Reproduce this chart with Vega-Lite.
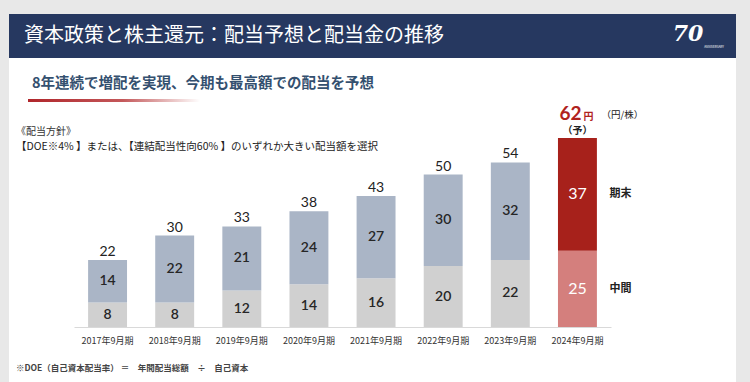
{
  "$schema": "https://vega.github.io/schema/vega-lite/v6.json",
  "width": 750,
  "height": 327,
  "autosize": {"type": "none"},
  "padding": {"left": 0, "top": 0, "right": 0, "bottom": 55},
  "background": "#e8e8e8",
  "config": {"view": {"stroke": null}, "font": "Noto Sans CJK JP"},
  "datasets": {
    "segments": [
      {"year": "2017年9月期", "part": "中間", "value": 8, "series": "中間", "ord": 1, "forecast": false},
      {"year": "2017年9月期", "part": "期末", "value": 14, "series": "期末", "ord": 2, "forecast": false},
      {"year": "2018年9月期", "part": "中間", "value": 8, "series": "中間", "ord": 1, "forecast": false},
      {"year": "2018年9月期", "part": "期末", "value": 22, "series": "期末", "ord": 2, "forecast": false},
      {"year": "2019年9月期", "part": "中間", "value": 12, "series": "中間", "ord": 1, "forecast": false},
      {"year": "2019年9月期", "part": "期末", "value": 21, "series": "期末", "ord": 2, "forecast": false},
      {"year": "2020年9月期", "part": "中間", "value": 14, "series": "中間", "ord": 1, "forecast": false},
      {"year": "2020年9月期", "part": "期末", "value": 24, "series": "期末", "ord": 2, "forecast": false},
      {"year": "2021年9月期", "part": "中間", "value": 16, "series": "中間", "ord": 1, "forecast": false},
      {"year": "2021年9月期", "part": "期末", "value": 27, "series": "期末", "ord": 2, "forecast": false},
      {"year": "2022年9月期", "part": "中間", "value": 20, "series": "中間", "ord": 1, "forecast": false},
      {"year": "2022年9月期", "part": "期末", "value": 30, "series": "期末", "ord": 2, "forecast": false},
      {"year": "2023年9月期", "part": "中間", "value": 22, "series": "中間", "ord": 1, "forecast": false},
      {"year": "2023年9月期", "part": "期末", "value": 32, "series": "期末", "ord": 2, "forecast": false},
      {"year": "2024年9月期", "part": "中間", "value": 25, "series": "中間予", "ord": 1, "forecast": true},
      {"year": "2024年9月期", "part": "期末", "value": 37, "series": "期末予", "ord": 2, "forecast": true}
    ],
    "totals": [
      {"year": "2017年9月期", "total": 22},
      {"year": "2018年9月期", "total": 30},
      {"year": "2019年9月期", "total": 33},
      {"year": "2020年9月期", "total": 38},
      {"year": "2021年9月期", "total": 43},
      {"year": "2022年9月期", "total": 50},
      {"year": "2023年9月期", "total": 54}
    ],
    "forecastTotal": [
      {"year": "2024年9月期", "total": 62}
    ]
  },
  "layer": [
    {
      "data": {"values": [{}]},
      "mark": {"type": "rect", "color": "white"},
      "encoding": {"x": {"value": 9}, "x2": {"value": 736}, "y": {"value": 14}, "y2": {"value": 382}}
    },
    {
      "data": {"values": [{}]},
      "mark": {"type": "rect", "color": "#263860"},
      "encoding": {"x": {"value": 9}, "x2": {"value": 736}, "y": {"value": 14}, "y2": {"value": 58}}
    },
    {
      "data": {"values": [{}]},
      "mark": {"type": "text", "text": "資本政策と株主還元：配当予想と配当金の推移", "align": "left", "baseline": "middle", "fontSize": 20, "color": "white"},
      "encoding": {"x": {"value": 24}, "y": {"value": 36}}
    },
    {
      "data": {"values": [{}]},
      "mark": {"type": "text", "text": "70", "align": "center", "baseline": "middle", "fontSize": 22, "fontStyle": "italic", "fontWeight": "bold", "font": "DejaVu Serif", "color": "white"},
      "encoding": {"x": {"value": 688}, "y": {"value": 34}}
    },
    {
      "data": {"values": [{}]},
      "mark": {"type": "text", "text": "ANNIVERSARY", "align": "center", "baseline": "middle", "fontSize": 3, "color": "white"},
      "encoding": {"x": {"value": 714}, "y": {"value": 47}}
    },
    {
      "data": {"values": [{}]},
      "mark": {"type": "text", "text": "8年連続で増配を実現、今期も最高額での配当を予想", "align": "left", "baseline": "middle", "fontSize": 14.5, "fontWeight": "bold", "color": "#34506f"},
      "encoding": {"x": {"value": 32}, "y": {"value": 84}}
    },
    {
      "data": {"values": [{}]},
      "mark": {"type": "rect", "color": {"gradient": "linear", "x1": 0, "x2": 1, "y1": 0, "y2": 0, "stops": [{"offset": 0, "color": "#b0262b"}, {"offset": 0.55, "color": "#c4585a"}, {"offset": 1, "color": "#ffffff"}]}},
      "encoding": {"x": {"value": 28}, "x2": {"value": 200}, "y": {"value": 99}, "y2": {"value": 102}}
    },
    {
      "data": {"values": [{}]},
      "mark": {"type": "text", "text": "《配当方針》", "align": "left", "baseline": "middle", "fontSize": 10, "color": "#333333"},
      "encoding": {"x": {"value": 16}, "y": {"value": 132}}
    },
    {
      "data": {"values": [{}]},
      "mark": {"type": "text", "text": "【DOE※4% 】または、【連結配当性向60% 】のいずれか大きい配当額を選択", "align": "left", "baseline": "middle", "fontSize": 10.5, "color": "#222222"},
      "encoding": {"x": {"value": 16}, "y": {"value": 147}}
    },
    {
      "data": {"values": [{}]},
      "mark": {"type": "text", "text": "※DOE（自己資本配当率） ＝　年間配当総額　÷　自己資本", "align": "left", "baseline": "middle", "fontSize": 8.5, "fontWeight": "bold", "color": "#444444"},
      "encoding": {"x": {"value": 16}, "y": {"value": 368}}
    },
    {
      "data": {"name": "segments"},
      "mark": {"type": "bar"},
      "encoding": {
        "x": {
          "field": "year", "type": "nominal", "sort": null,
          "scale": {"domain": ["2017年9月期", "2018年9月期", "2019年9月期", "2020年9月期", "2021年9月期", "2022年9月期", "2023年9月期", "2024年9月期"], "range": [74, 611], "paddingInner": 0.42, "paddingOuter": 0.21},
          "axis": {"title": null, "orient": "bottom", "zindex": 1, "domainColor": "#d9d9d9", "domainWidth": 1, "ticks": false, "labelAngle": 0, "labelFontSize": 9, "labelColor": "#333333", "labelPadding": 9, "labelFont": "Noto Sans CJK JP", "grid": false}
        },
        "y": {"field": "value", "type": "quantitative", "stack": "zero", "scale": {"domain": [0, 62], "range": [327, 138], "nice": false, "zero": true}, "axis": null},
        "color": {"field": "series", "type": "nominal", "scale": {"domain": ["中間", "期末", "中間予", "期末予"], "range": ["#d0d0d0", "#aab5c6", "#d47f7d", "#a7211b"]}, "legend": null},
        "order": {"field": "ord", "type": "quantitative"}
      }
    },
    {
      "data": {"name": "segments"},
      "transform": [{"filter": "!datum.forecast"}],
      "mark": {"type": "text", "fontSize": 14, "fontWeight": 600, "font": "Lato", "color": "#262626", "baseline": "middle"},
      "encoding": {
        "x": {"field": "year", "type": "nominal"},
        "y": {"field": "value", "type": "quantitative", "stack": "zero", "bandPosition": 0.5},
        "detail": {"field": "part"},
        "order": {"field": "ord", "type": "quantitative"},
        "text": {"field": "value", "type": "quantitative"}
      }
    },
    {
      "data": {"name": "segments"},
      "transform": [{"filter": "datum.forecast"}],
      "mark": {"type": "text", "fontSize": 16, "font": "Lato", "color": "white", "baseline": "middle"},
      "encoding": {
        "x": {"field": "year", "type": "nominal"},
        "y": {"field": "value", "type": "quantitative", "stack": "zero", "bandPosition": 0.5},
        "detail": {"field": "part"},
        "order": {"field": "ord", "type": "quantitative"},
        "text": {"field": "value", "type": "quantitative"}
      }
    },
    {
      "data": {"name": "segments"},
      "transform": [{"filter": "datum.forecast"}],
      "mark": {"type": "text", "fontSize": 11, "fontWeight": "bold", "color": "#222222", "align": "left", "baseline": "middle", "dx": 32},
      "encoding": {
        "x": {"field": "year", "type": "nominal"},
        "y": {"field": "value", "type": "quantitative", "stack": "zero", "bandPosition": 0.5},
        "detail": {"field": "part"},
        "order": {"field": "ord", "type": "quantitative"},
        "text": {"field": "part", "type": "nominal"}
      }
    },
    {
      "data": {"name": "totals"},
      "mark": {"type": "text", "fontSize": 14, "font": "Lato", "color": "#222222", "baseline": "alphabetic", "dy": -4},
      "encoding": {
        "x": {"field": "year", "type": "nominal"},
        "y": {"field": "total", "type": "quantitative"},
        "text": {"field": "total", "type": "quantitative"}
      }
    },
    {
      "data": {"name": "forecastTotal"},
      "mark": {"type": "text", "fontSize": 19, "fontWeight": "bold", "font": "Lato", "color": "#b0221d", "align": "right", "baseline": "alphabetic", "dx": 4, "dy": -18},
      "encoding": {
        "x": {"field": "year", "type": "nominal"},
        "y": {"field": "total", "type": "quantitative"},
        "text": {"field": "total", "type": "quantitative"}
      }
    },
    {
      "data": {"name": "forecastTotal"},
      "mark": {"type": "text", "text": "円", "fontSize": 10, "fontWeight": "bold", "color": "#b0221d", "align": "left", "baseline": "alphabetic", "dx": 6, "dy": -18},
      "encoding": {
        "x": {"field": "year", "type": "nominal"},
        "y": {"field": "total", "type": "quantitative"}
      }
    },
    {
      "data": {"name": "forecastTotal"},
      "mark": {"type": "text", "text": "（予）", "fontSize": 10, "fontWeight": "bold", "color": "#222222", "align": "center", "baseline": "middle", "dy": -7},
      "encoding": {
        "x": {"field": "year", "type": "nominal"},
        "y": {"field": "total", "type": "quantitative"}
      }
    },
    {
      "data": {"name": "forecastTotal"},
      "mark": {"type": "text", "text": "（円/株）", "fontSize": 9.5, "color": "#222222", "align": "left", "baseline": "alphabetic", "dx": 24, "dy": -20},
      "encoding": {
        "x": {"field": "year", "type": "nominal"},
        "y": {"field": "total", "type": "quantitative"}
      }
    }
  ]
}
